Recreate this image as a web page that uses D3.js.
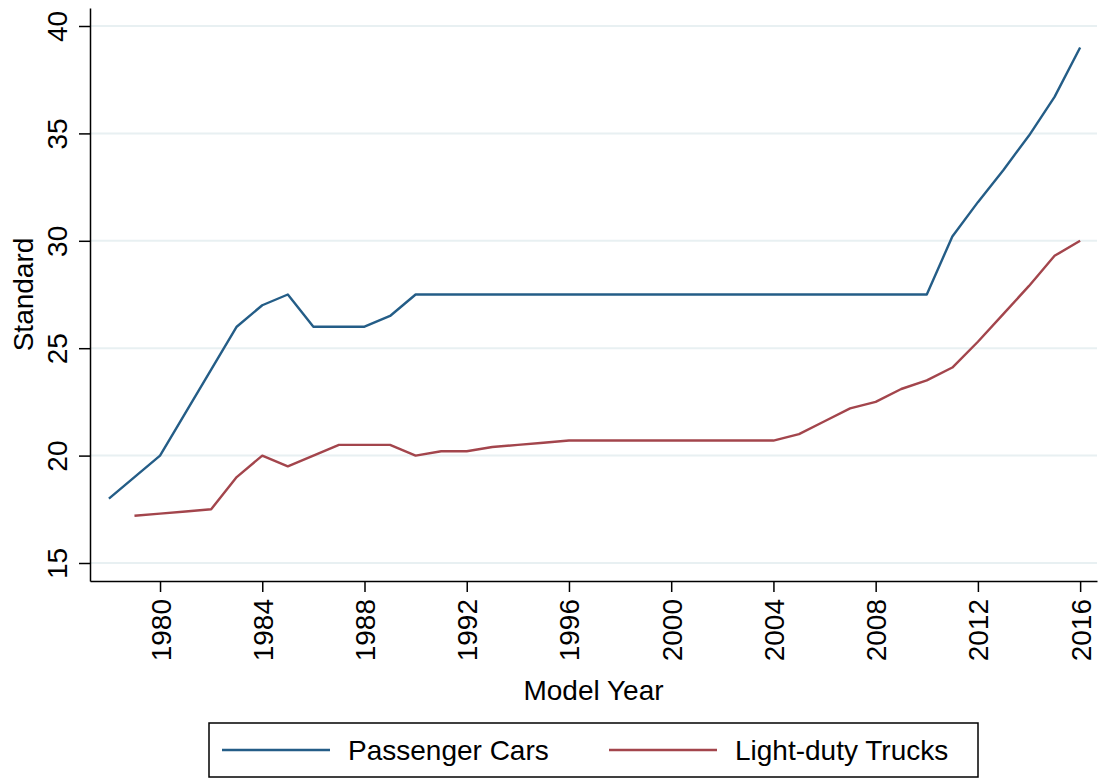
<!DOCTYPE html>
<html>
<head>
<meta charset="utf-8">
<script src="https://cdn.jsdelivr.net/npm/d3@7"></script>
<style>
  body { margin: 0; background: #fff; }
  text { font-family: "Liberation Sans", Arial, sans-serif; fill: #000; }
</style>
</head>
<body>
<div class="chart"></div>
<script>
var carYears = d3.range(1978, 2017);
var carValues = [18.0, 19.0, 20.0, 22.0, 24.0, 26.0, 27.0, 27.5, 26.0, 26.0,
    26.0, 26.5, 27.5, 27.5, 27.5, 27.5, 27.5, 27.5, 27.5, 27.5,
    27.5, 27.5, 27.5, 27.5, 27.5, 27.5, 27.5, 27.5, 27.5, 27.5,
    27.5, 27.5, 27.5, 30.2, 31.8, 33.3, 34.9, 36.7, 39.0];

var truckYears = d3.range(1979, 2017);
var truckValues = [17.2, 17.3, 17.4, 17.5, 19.0, 20.0, 19.5, 20.0, 20.5,
    20.5, 20.5, 20.0, 20.2, 20.2, 20.4, 20.5, 20.6, 20.7, 20.7,
    20.7, 20.7, 20.7, 20.7, 20.7, 20.7, 20.7, 21.0, 21.6, 22.2,
    22.5, 23.1, 23.5, 24.1, 25.3, 26.6, 27.9, 29.3, 30.0];

var yTicks = [15, 20, 25, 30, 35, 40];
var xTicks = [1980, 1984, 1988, 1992, 1996, 2000, 2004, 2008, 2012, 2016];
var seriesNames = ["Passenger Cars", "Light-duty Trucks"];
var colors = ["#245d87", "#a3454c"];

function drawChart() {
    var width = 1099, height = 780;
    var margin = {left: 90, right: 1097, top: 8, bottom: 581};

    var svg = d3.select(".chart")
        .append("svg")
        .attr("width", width)
        .attr("height", height);

    var x = d3.scaleLinear().domain([1977.26, 2016.66]).range([margin.left, margin.right]);
    var y = d3.scaleLinear().domain([14.162, 40.838]).range([margin.bottom, margin.top]);

    // grid lines
    svg.selectAll(".grid")
        .data(yTicks)
        .enter()
        .append("line")
        .attr("x1", margin.left)
        .attr("x2", margin.right)
        .attr("y1", function(d) { return y(d); })
        .attr("y2", function(d) { return y(d); })
        .style("stroke", "#e8f0f2")
        .style("stroke-width", 2);

    // lines
    var line = d3.line()
        .x(function(d) { return x(d[0]); })
        .y(function(d) { return y(d[1]); });

    var series = [
        d3.zip(carYears, carValues),
        d3.zip(truckYears, truckValues)
    ];

    series.forEach(function(s, i) {
        svg.append("path")
            .datum(s)
            .attr("d", line)
            .style("fill", "none")
            .style("stroke", colors[i])
            .style("stroke-width", 2.4)
            .style("stroke-linejoin", "round");
    });

    // y axis
    var yAxis = svg.append("g")
        .attr("transform", "translate(" + margin.left + ",0)")
        .call(d3.axisLeft(y).tickValues(yTicks).tickSize(11).tickSizeOuter(0));
    yAxis.select(".domain").style("stroke", "#000").style("stroke-width", 1.5);
    yAxis.selectAll(".tick line").style("stroke", "#000").style("stroke-width", 1.5);
    yAxis.selectAll(".tick text")
        .attr("x", 0)
        .attr("dy", 0)
        .attr("transform", "translate(-23,0) rotate(-90)")
        .attr("text-anchor", "middle")
        .style("font-size", "28px")
        .style("font-family", "'Liberation Sans', Arial, sans-serif");

    // x axis
    var xAxis = svg.append("g")
        .attr("transform", "translate(0," + margin.bottom + ")")
        .call(d3.axisBottom(x).tickValues(xTicks).tickFormat(d3.format("d")).tickSize(11).tickSizeOuter(0));
    xAxis.select(".domain").style("stroke", "#000").style("stroke-width", 1.5);
    xAxis.selectAll(".tick line").style("stroke", "#000").style("stroke-width", 1.5);
    xAxis.selectAll(".tick text")
        .attr("y", 0)
        .attr("dy", 0)
        .attr("transform", "translate(10,18) rotate(-90)")
        .attr("text-anchor", "end")
        .style("font-size", "28px")
        .style("font-family", "'Liberation Sans', Arial, sans-serif");

    // axis titles
    svg.append("text")
        .attr("x", (margin.left + margin.right) / 2)
        .attr("y", 700)
        .attr("text-anchor", "middle")
        .style("font-size", "28px")
        .text("Model Year");

    svg.append("text")
        .attr("transform", "translate(33," + ((margin.top + margin.bottom) / 2) + ") rotate(-90)")
        .attr("text-anchor", "middle")
        .style("font-size", "28px")
        .text("Standard");

    // legend
    var legend = svg.append("g");
    legend.append("rect")
        .attr("x", 209)
        .attr("y", 723)
        .attr("width", 769)
        .attr("height", 54)
        .style("fill", "#fff")
        .style("stroke", "#000")
        .style("stroke-width", 1.5);

    var legendX = [222, 609];
    seriesNames.forEach(function(name, i) {
        legend.append("line")
            .attr("x1", legendX[i])
            .attr("x2", legendX[i] + 108)
            .attr("y1", 750)
            .attr("y2", 750)
            .style("stroke", colors[i])
            .style("stroke-width", 2.4);
        legend.append("text")
            .attr("x", legendX[i] + 126)
            .attr("y", 760)
            .style("font-size", "28px")
            .text(name);
    });
}
drawChart();
</script>
</body>
</html>
